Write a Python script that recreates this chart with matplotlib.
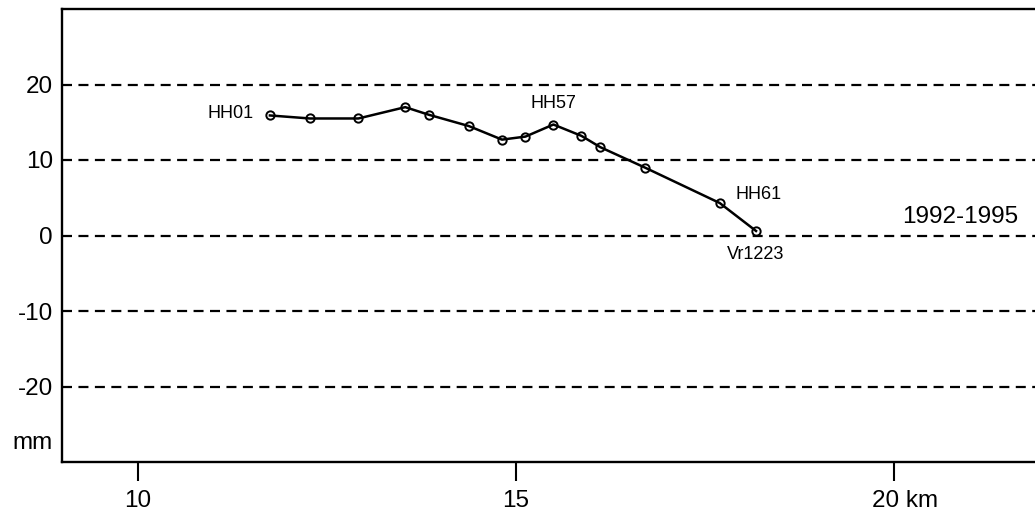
import matplotlib
matplotlib.use("Agg")
import matplotlib.pyplot as plt
from matplotlib.transforms import ScaledTranslation

plt.rcParams['font.family'] = ['Liberation Sans', 'DejaVu Sans']

# Levelling profile: distance along the line (km) and height change (mm)
distance_km = [11.75, 12.28, 12.92, 13.54, 13.85, 14.38, 14.82, 15.13,
               15.50, 15.87, 16.12, 16.71, 17.70, 18.18]
change_mm = [15.9, 15.5, 15.5, 17.0, 16.0, 14.5, 12.7, 13.1,
             14.7, 13.2, 11.7, 9.0, 4.3, 0.6]

# Benchmark names shown next to selected points: (index, name, dx px, dy px, ha, va)
benchmarks = [
    (0, "HH01", -16, 2, "right", "center"),
    (8, "HH57", 0, 21, "center", "center"),
    (12, "HH61", 39, 9, "center", "center"),
    (13, "Vr1223", 0, -24, "center", "center"),
]

period_label = "1992-1995"
x_ticks = [10, 15, 20]
x_tick_labels = ["10", "15", "20 km"]
y_levels = [-20, -10, 0, 10, 20]

fig = plt.figure(figsize=(10.35, 5.17), dpi=100)
ax = fig.add_axes([62 / 1035, 55 / 517, 1 - 62 / 1035, 453 / 517])

ax.set_xlim(9.0, 21.87)
ax.set_ylim(-30, 30)

# Dashed reference levels
for lv in y_levels:
    ax.axhline(lv, color="black", lw=1.6, ls=(0, (4.5, 2.9)), zorder=1)

ax.plot(distance_km, change_mm, color="black", lw=1.8, marker="o",
        markersize=6, markerfacecolor="none", markeredgecolor="black",
        markeredgewidth=1.4, zorder=3)

for idx, name, dx, dy, ha, va in benchmarks:
    ax.annotate(name, (distance_km[idx], change_mm[idx]),
                xytext=(dx * 0.72, dy * 0.72), textcoords="offset points",
                ha=ha, va=va, fontsize=13)

ax.annotate(period_label, (1.0, 0), xycoords=("axes fraction", "data"),
            xytext=(-12, 13.5), textcoords="offset points",
            ha="right", va="center", fontsize=17.5)

# Spines: left, top, bottom only
ax.spines["right"].set_visible(False)
for s in ("left", "top", "bottom"):
    ax.spines[s].set_linewidth(1.7)

ax.set_xticks(x_ticks)
ax.set_xticklabels(x_tick_labels, fontsize=17.5)
ax.tick_params(axis="x", direction="out", length=13.5, width=1.5, pad=7)
# The unit sits after the last number, so nudge that label right
last = ax.get_xticklabels()[-1]
last.set_transform(last.get_transform() + ScaledTranslation(11 / 100, 0, fig.dpi_scale_trans))

ax.set_yticks(y_levels)
ax.set_yticklabels([str(v) for v in y_levels], fontsize=17.5)
ax.tick_params(axis="y", length=0, pad=6.5)

ax.annotate("mm", (0, -27.5), xycoords=("axes fraction", "data"),
            xytext=(-6.5, 0), textcoords="offset points",
            ha="right", va="center", fontsize=17.5)

fig.savefig("out.png", dpi=100)
